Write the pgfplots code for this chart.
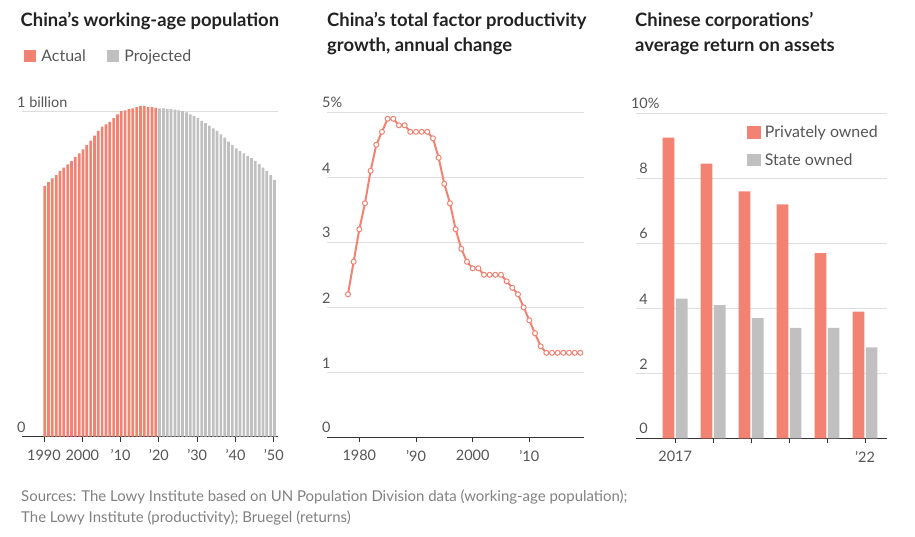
\documentclass[border=0pt]{standalone}
\usepackage{pgfplots}
\pgfplotsset{compat=1.18}
\usepackage{fontspec}
\setmainfont{Lato}
\definecolor{lred}{RGB}{242,130,114}
\definecolor{lgrey}{RGB}{192,192,192}
\definecolor{ticktxt}{RGB}{85,85,85}
\definecolor{titletxt}{RGB}{34,34,34}
\definecolor{srctxt}{RGB}{128,128,128}
\definecolor{gridc}{RGB}{222,222,222}
\definecolor{axisc}{RGB}{51,51,51}
\pgfplotsset{
  wsj/.style={
    scale only axis,
    anchor=south west,
    axis x line*=bottom,
    axis y line*=left,
    y axis line style={draw=none},
    x axis line style={draw=axisc, line width=1.1bp},
    ytick style={draw=none},
    xtick style={draw=axisc, line width=0.9bp},
    tick align=outside,
    major tick length=5bp,
    ymajorgrids,
    grid style={draw=gridc, line width=0.9bp},
    ticklabel style={font=\fontsize{14.5}{16}\selectfont, text=ticktxt},
    xticklabel style={anchor=north, yshift=-4.5bp},
    yticklabel style={anchor=south west, inner sep=0pt, yshift=4bp},
    clip=false,
    legend style={draw=none, fill=none, font=\fontsize{16}{18}\selectfont, text=ticktxt},
    legend cell align=left,
    legend image code/.code={\draw[##1,draw=none] (0bp,-6bp) rectangle (12.5bp,6.5bp);},
  }
}
\begin{document}
\begin{tikzpicture}
\useasboundingbox (0bp,0bp) rectangle (915bp,537bp);
% Titles
\node[anchor=base west, inner sep=0pt, font=\fontsize{18.5}{21}\selectfont\bfseries, text=titletxt] at (20.5bp,510.3bp) {China’s working-age population};
\node[anchor=base west, inner sep=0pt, font=\fontsize{18.5}{21}\selectfont\bfseries, text=titletxt] at (327bp,510.3bp) {China’s total factor productivity};
\node[anchor=base west, inner sep=0pt, font=\fontsize{18.5}{21}\selectfont\bfseries, text=titletxt] at (327bp,485.3bp) {growth, annual change};
\node[anchor=base west, inner sep=0pt, font=\fontsize{18.5}{21}\selectfont\bfseries, text=titletxt] at (635bp,510.3bp) {Chinese corporations’};
\node[anchor=base west, inner sep=0pt, font=\fontsize{18.5}{21}\selectfont\bfseries, text=titletxt] at (635bp,485.3bp) {average return on assets};
% Sources
\node[anchor=base west, inner sep=0pt, font=\fontsize{15}{17}\selectfont, text=srctxt] at (21bp,35.3bp) {Sources: The Lowy Institute based on UN Population Division data (working-age population);};
\node[anchor=base west, inner sep=0pt, font=\fontsize{15}{17}\selectfont, text=srctxt] at (21bp,14.3bp) {The Lowy Institute (productivity); Bruegel (returns)};

% Panel 1
\begin{axis}[wsj,
  at={(22bp,100.3bp)},
  width=256bp, height=341.25bp,
  xmin=1984.26, xmax=2051.1,
  ymin=0, ymax=1.05,
  ytick={0,1}, yticklabels={0,1 billion},
  xtick={1990,2000,2010,2020,2030,2040,2050},
  xticklabels={1990,2000,’10,’20,’30,’40,’50},
  legend columns=2,
  legend style={at={(-0.005,1.115)}, anchor=west,
    /tikz/every odd column/.append style={column sep=3bp},
    /tikz/every even column/.append style={column sep=19bp}},
]
\addplot[ybar, bar width=2.7bp, bar shift=0.7bp, fill=lred, draw=none] coordinates {
(1990,0.772) (1991,0.783) (1992,0.795) (1993,0.805) (1994,0.818) (1995,0.828)
(1996,0.838) (1997,0.848) (1998,0.861) (1999,0.872) (2000,0.884) (2001,0.898)
(2002,0.911) (2003,0.926) (2004,0.941) (2005,0.954) (2006,0.961) (2007,0.969)
(2008,0.980) (2009,0.992) (2010,1.002) (2011,1.004) (2012,1.008) (2013,1.010)
(2014,1.014) (2015,1.018) (2016,1.018) (2017,1.014) (2018,1.014) (2019,1.012)
};
\addlegendentry{Actual}
\addplot[ybar, bar width=2.7bp, bar shift=0.7bp, fill=lgrey, draw=none] coordinates {
(2020,1.010) (2021,1.010) (2022,1.008) (2023,1.008) (2024,1.006) (2025,1.004)
(2026,1.002) (2027,0.998) (2028,0.992) (2029,0.987) (2030,0.980) (2031,0.972)
(2032,0.965) (2033,0.957) (2034,0.949) (2035,0.941) (2036,0.930) (2037,0.920)
(2038,0.908) (2039,0.897) (2040,0.887) (2041,0.879) (2042,0.872) (2043,0.864)
(2044,0.857) (2045,0.849) (2046,0.839) (2047,0.828) (2048,0.818) (2049,0.805)
(2050,0.790)
};
\addlegendentry{Projected}
\end{axis}

% Panel 2
\begin{axis}[wsj,
  at={(327bp,99.7bp)},
  width=257bp, height=325bp,
  xmin=1974.3, xmax=2019.65,
  ymin=0, ymax=5,
  ytick={0,1,2,3,4,5}, yticklabels={0,1,2,3,4,5\%},
  xtick={1980,1990,2000,2010},
  xticklabels={1980,’90,2000,’10},
]
\addplot[color=lred, line width=2bp, mark=*, mark size=2.5bp,
  mark options={fill=white, draw=lred, line width=1bp}] coordinates {
(1978,2.2) (1979,2.7) (1980,3.2) (1981,3.6) (1982,4.1) (1983,4.5) (1984,4.7)
(1985,4.9) (1986,4.9) (1987,4.8) (1988,4.8) (1989,4.7) (1990,4.7) (1991,4.7)
(1992,4.7) (1993,4.6) (1994,4.3) (1995,3.9) (1996,3.6) (1997,3.2) (1998,2.9)
(1999,2.7) (2000,2.6) (2001,2.6) (2002,2.5) (2003,2.5) (2004,2.5) (2005,2.5)
(2006,2.4) (2007,2.3) (2008,2.2) (2009,2.0) (2010,1.8) (2011,1.6) (2012,1.4)
(2013,1.3) (2014,1.3) (2015,1.3) (2016,1.3) (2017,1.3) (2018,1.3) (2019,1.3)
};
\end{axis}

% Panel 3 (years 2017..2022 plotted at 0..5)
\begin{axis}[wsj,
  at={(636bp,98.7bp)},
  width=250.7bp, height=325bp,
  xmin=-1.03, xmax=5.57,
  ymin=0, ymax=10,
  ytick={0,2,4,6,8,10}, yticklabels={0,2,4,6,8,10\rlap{\%}},
  yticklabel style={anchor=south east, xshift=17bp},
  xtick={0,1,2,3,4,5},
  xticklabels={2017,,,,,’22},
  legend style={at={(0.431,0.973)}, anchor=north west, row sep=10bp,
    /tikz/every odd column/.append style={column sep=2bp}},
  legend image code/.code={\draw[#1,draw=none] (0bp,-6bp) rectangle (13.7bp,6.5bp);},
]
\addplot[ybar, bar width=11.6bp, bar shift=-6.6bp, fill=lred, draw=none] coordinates {
(0,9.25) (1,8.45) (2,7.6) (3,7.2) (4,5.7) (5,3.9)
};
\addlegendentry{Privately owned}
\addplot[ybar, bar width=11.6bp, bar shift=6.6bp, fill=lgrey, draw=none] coordinates {
(0,4.3) (1,4.1) (2,3.7) (3,3.4) (4,3.4) (5,2.8)
};
\addlegendentry{State owned}
\end{axis}
\end{tikzpicture}
\end{document}
